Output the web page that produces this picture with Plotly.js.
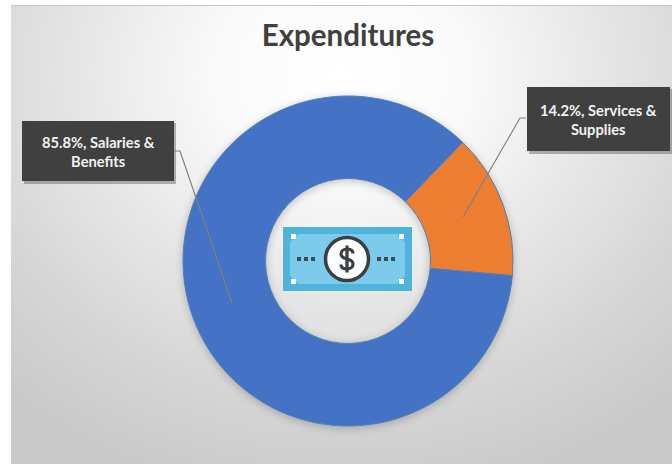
<!DOCTYPE html>
<html><head><meta charset="utf-8">
<script src="https://cdn.plot.ly/plotly-3.0.1.min.js"></script>
<style>
html,body{margin:0;padding:0;background:#fff;overflow:hidden}
#bg{position:absolute;left:11px;top:5px;width:661px;height:459px;box-sizing:border-box;border-top:1px solid #c4c4c4;background:radial-gradient(ellipse 500px 430px at 50% 15%,#ffffff 0%,#fafafa 25%,#e8e8e8 50%,#d6d6d6 76%,#c9c9c9 100%);}
#chart{position:absolute;left:0;top:0;width:672px;height:464px}
.pielayer{filter:drop-shadow(0 2px 4px rgba(0,0,0,0.22))}
</style></head><body>
<div id="bg"></div><div id="chart"></div>
<script>
var categories = ['Services & Supplies', 'Salaries & Benefits'];
var shares = [14.2, 85.8];
var sliceColors = ['#ed7d31', '#4472c4'];
var chartTitle = 'Expenditures';
var labelTexts = ['14.2%, Services &<br>Supplies', '85.8%, Salaries &<br>Benefits'];

var W = 672, H = 464;
function px(x){return x/W;}
function py(y){return 1-y/H;}

var icon = '<svg xmlns="http://www.w3.org/2000/svg" width="258" height="128" viewBox="0 0 129 64">'+
 '<rect width="129" height="64" fill="#4fb3dc"/>'+
 '<polygon points="15,7 114,7 122,15 122,49 114,57 15,57 7,49 7,15" fill="#7ccbea"/>'+
 '<rect x="8" y="7" width="5" height="5" fill="#fff"/><rect x="116" y="7" width="5" height="5" fill="#fff"/>'+
 '<rect x="8" y="52" width="5" height="5" fill="#fff"/><rect x="116" y="52" width="5" height="5" fill="#fff"/>'+
 '<g fill="#3b4a55"><rect x="14" y="30" width="4" height="4"/><rect x="21" y="30" width="4" height="4"/><rect x="28" y="30" width="4" height="4"/>'+
 '<rect x="94" y="30" width="4" height="4"/><rect x="101" y="30" width="4" height="4"/><rect x="108" y="30" width="4" height="4"/></g>'+
 '<circle cx="64" cy="32" r="21.5" fill="#fff" stroke="#3a3f44" stroke-width="3.5"/>'+
 '<path d="M70,26.5 C70,23.5 67.5,22 64,22 C60.5,22 58,24 58,27 C58,30.5 61,31.3 64,32 C67,32.7 70,33.7 70,37 C70,40 67.5,42 64,42 C60.5,42 58,40.5 58,37.5 M64,18.5 V45.5" fill="none" stroke="#3a3f44" stroke-width="3.2"/>'+
 '</svg>';

function box(x0,y0,x1,y1,fill){
  return {type:'rect',xref:'paper',yref:'paper',x0:px(x0),x1:px(x1),y0:py(y1),y1:py(y0),fillcolor:fill,line:{width:0},layer:'above'};
}
function leader(a,b,c){
  return {type:'path',xref:'paper',yref:'paper',layer:'above',
    path:'M '+px(a[0])+' '+py(a[1])+' L '+px(b[0])+' '+py(b[1])+' L '+px(c[0])+' '+py(c[1]),
    line:{color:'#808080',width:1.2}};
}
function label(text,x,y){
  return {text:text,xref:'paper',yref:'paper',x:px(x),y:py(y),xanchor:'center',yanchor:'middle',showarrow:false,align:'center',
    font:{family:'Lato, "Open Sans", sans-serif',size:14.7,color:'#f2f2f2',weight:700}};
}

Plotly.newPlot('chart',[{
  type:'pie',labels:categories,values:shares,hole:0.5,sort:false,direction:'clockwise',rotation:44,
  marker:{colors:sliceColors,line:{color:'#4f7fb5',width:1}},textinfo:'none',hoverinfo:'label+percent',
  domain:{x:[px(183),px(513)],y:[py(426),py(96)]},showlegend:false
}],{
  width:W,height:H,margin:{l:0,r:0,t:0,b:0},paper_bgcolor:'rgba(0,0,0,0)',plot_bgcolor:'rgba(0,0,0,0)',showlegend:false,
  title:{text:'<b>'+chartTitle+'</b>',x:348/W,xanchor:'center',y:py(36),yanchor:'middle',font:{family:'Lato, "Open Sans", sans-serif',size:29.5,color:'#404040'}},
  shapes:[
    box(24,123,176,184,'rgba(90,90,90,0.45)'),
    box(529,89,672,154,'rgba(90,90,90,0.45)'),
    box(22,121,174,181,'#404040'),
    box(527,87,670,151,'#404040'),
    leader([174,151],[180,151],[232,303]),
    leader([526,118],[520,118],[463,217])
  ],
  annotations:[label(labelTexts[0],598,119),label(labelTexts[1],98,151)],
  images:[{source:'data:image/svg+xml;charset=utf-8,'+encodeURIComponent(icon),xref:'paper',yref:'paper',
    x:px(283),y:py(227),sizex:129/W,sizey:64/H,xanchor:'left',yanchor:'top',sizing:'stretch',layer:'above'}]
},{displayModeBar:false,staticPlot:true});
</script></body></html>
